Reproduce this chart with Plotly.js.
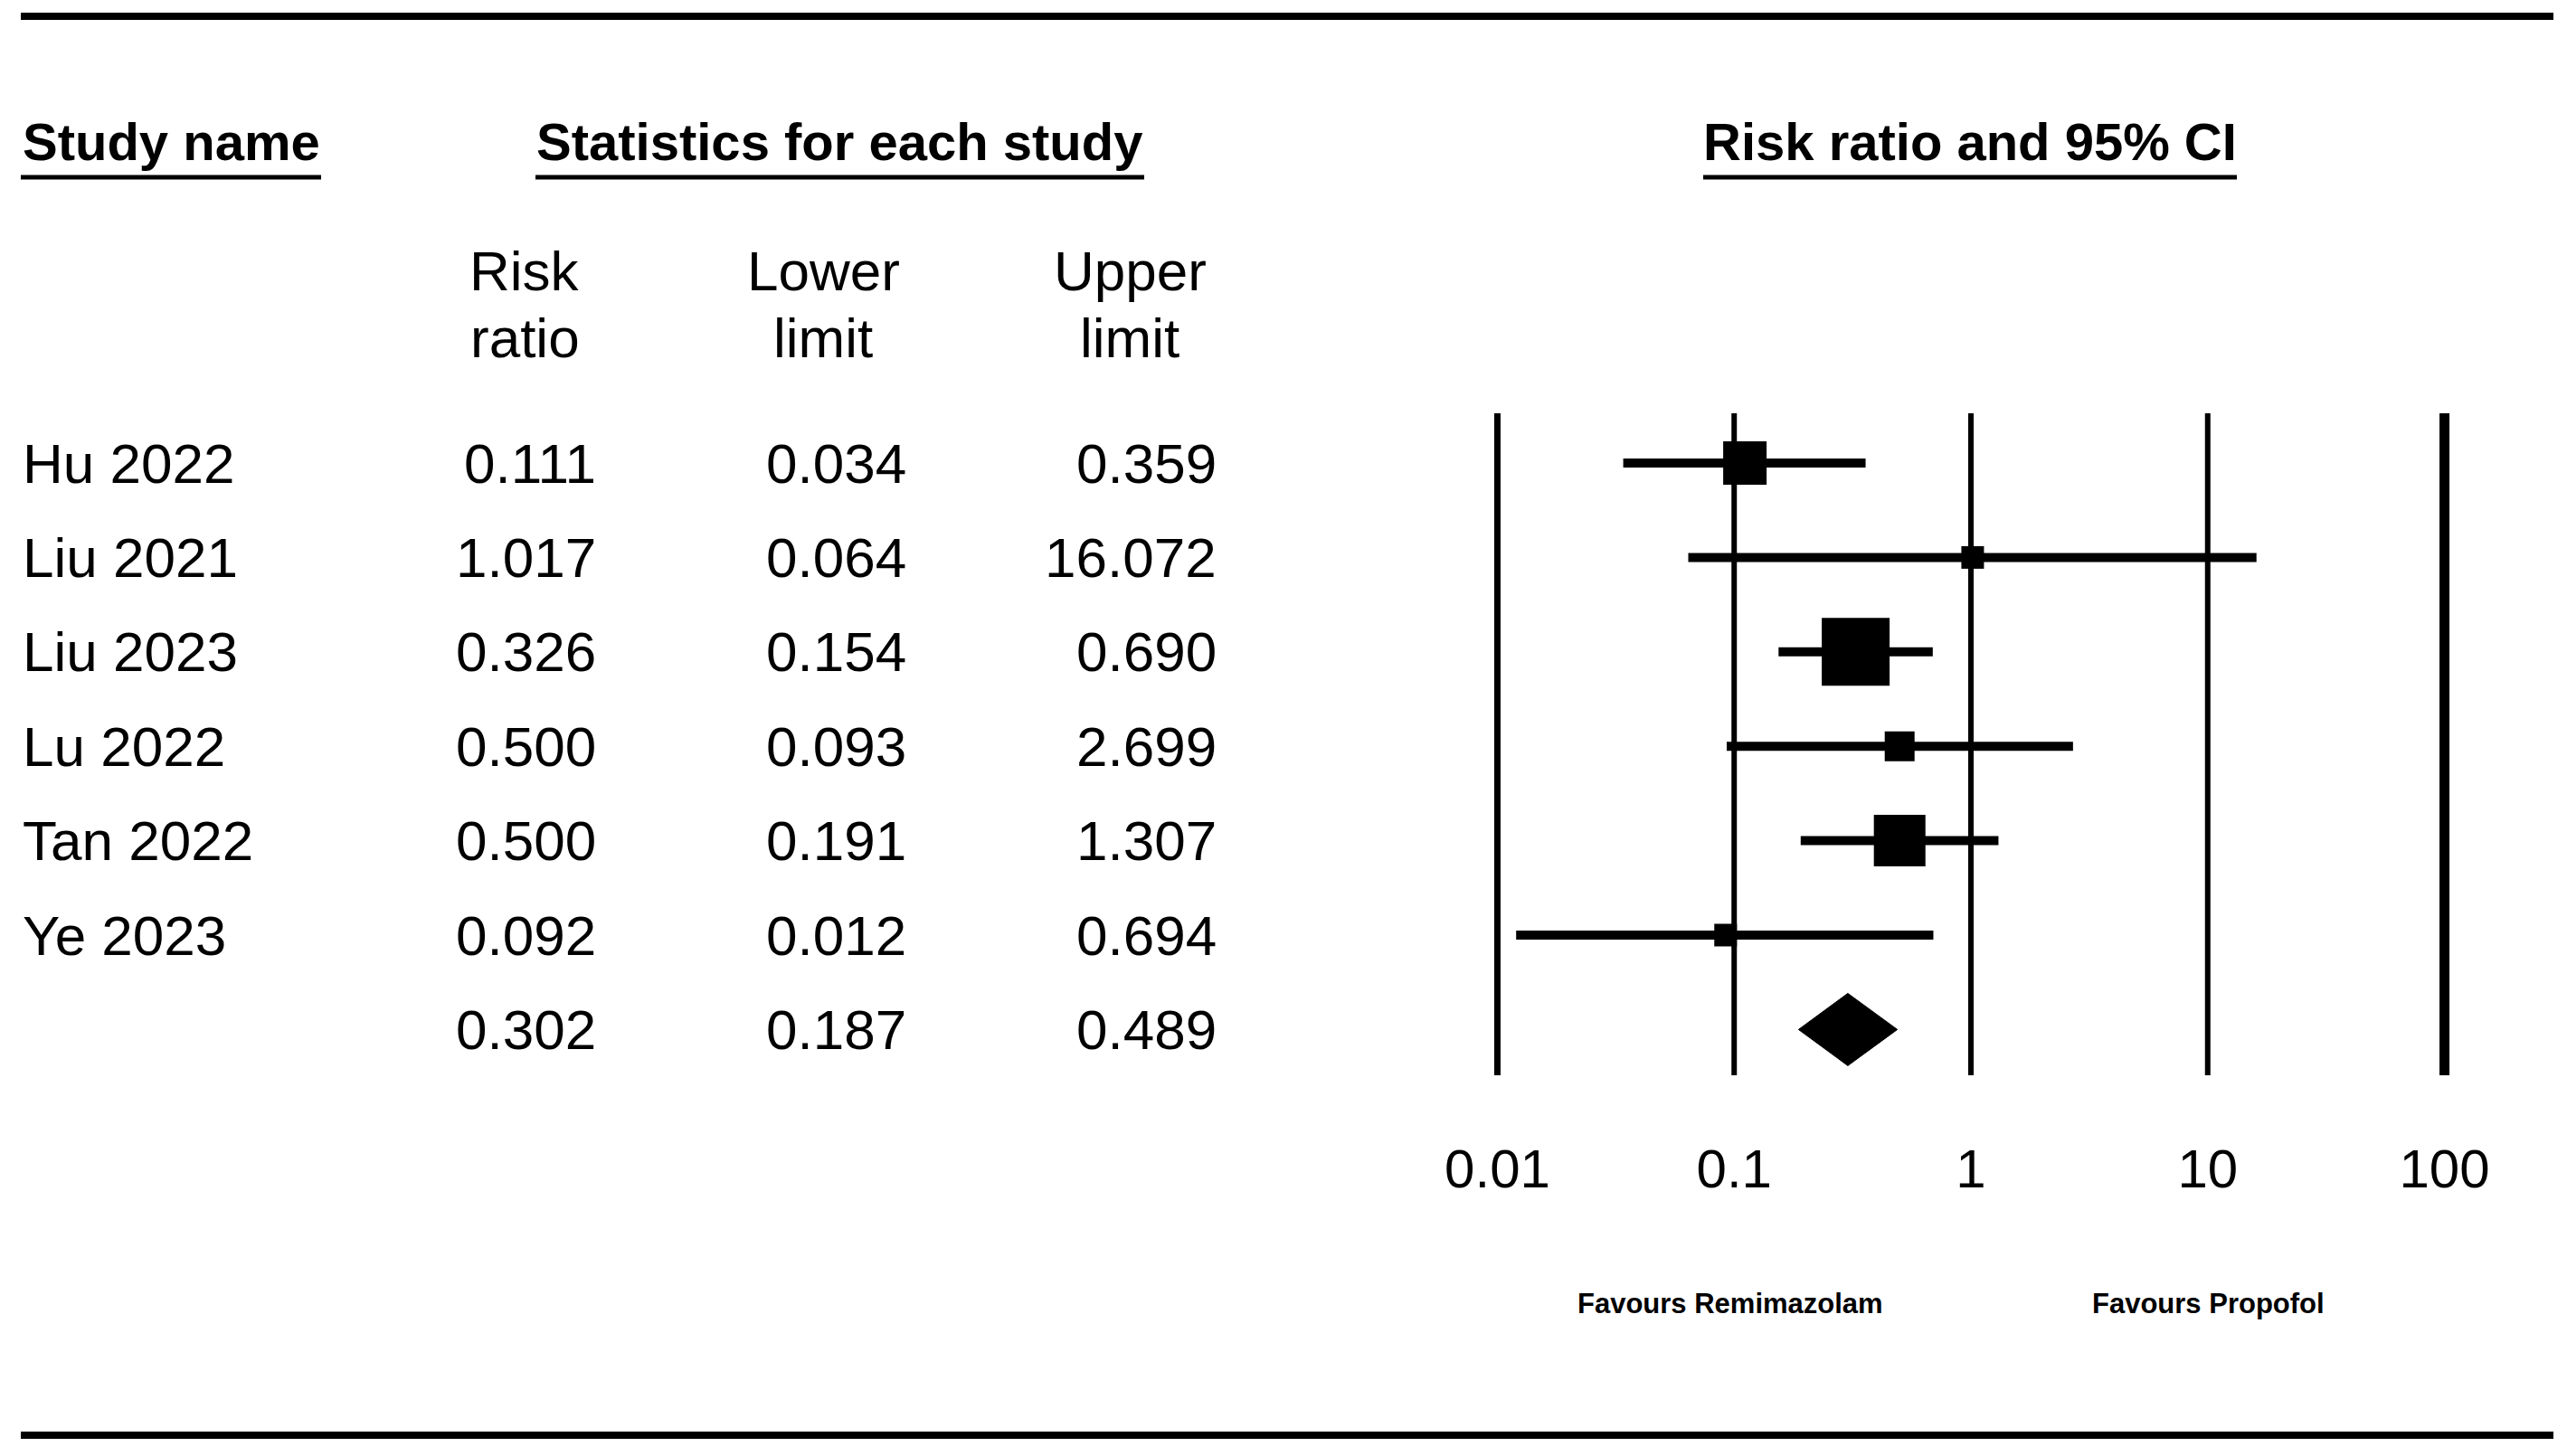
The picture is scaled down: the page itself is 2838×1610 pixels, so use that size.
<!DOCTYPE html>
<html>
<head>
<meta charset="utf-8">
<script src="https://cdn.plot.ly/plotly-3.0.1.min.js"></script>
<style>
  html, body { margin: 0; padding: 0; background: #ffffff; }
  #chart { width: 2838px; height: 1610px; }
</style>
</head>
<body>
<div id="chart"></div>
<script>
// ---------- data ----------
const studies = ["Hu 2022", "Liu 2021", "Liu 2023", "Lu 2022", "Tan 2022", "Ye 2023"];
const riskRatio = [0.111, 1.017, 0.326, 0.500, 0.500, 0.092];
const lowerLimit = [0.034, 0.064, 0.154, 0.093, 0.191, 0.012];
const upperLimit = [0.359, 16.072, 0.690, 2.699, 1.307, 0.694];
const summaryRR = 0.302;
const summaryLower = 0.187;
const summaryUpper = 0.489;
const tickVals = [0.01, 0.1, 1, 10, 100];
const tickText = ["0.01", "0.1", "1", "10", "100"];
const leftLabel = "Favours Remimazolam";
const rightLabel = "Favours Propofol";

// ---------- styles ----------
const squareSizes = [48, 25, 75, 33, 57, 25];
const refLineWidths = [7, 6, 6, 6, 11];
const W = 2838, H = 1610;
const FONT = "Liberation Sans, Arial, sans-serif";
const ROW0 = 512, ROWSTEP = 104.4;       // pixel y of first row and spacing
const PLOT_BOTTOM = 1200;                // pixel y of bottom of plot area
const px2y = p => (p - ROW0) / ROWSTEP;  // pixel -> data row
const px = x => x / W;
const py = y => 1 - y / H;

const traces = [];

// reference vertical lines
tickVals.forEach((v, k) => {
  traces.push({
    type: "scatter", mode: "lines",
    x: [v, v], y: [px2y(457), px2y(1189)],
    line: { color: "#000", width: refLineWidths[k] },
    hoverinfo: "skip"
  });
});

// confidence interval lines
const ciX = [], ciY = [];
studies.forEach((s, i) => {
  ciX.push(lowerLimit[i], upperLimit[i], null);
  ciY.push(i, i, null);
});
traces.push({
  type: "scatter", mode: "lines", x: ciX, y: ciY,
  line: { color: "#000", width: 10 }, hoverinfo: "skip"
});

// point estimates
traces.push({
  type: "scatter", mode: "markers", opacity: 1,
  x: riskRatio, y: studies.map((s, i) => i),
  marker: { symbol: "square", size: squareSizes, color: "#000", opacity: 1, line: { width: 0 } },
  hoverinfo: "skip"
});

// summary diamond
const sRow = studies.length;
const dh = 40 / ROWSTEP;
traces.push({
  type: "scatter", mode: "lines", fill: "toself",
  x: [summaryLower, summaryRR, summaryUpper, summaryRR, summaryLower],
  y: [sRow, sRow - dh, sRow, sRow + dh, sRow],
  fillcolor: "#000", line: { color: "#000", width: 1 }, hoverinfo: "skip"
});

// ---------- annotations (table text) ----------
const ann = [];
const textAnn = (x, y, text, opts) => Object.assign({
  xref: "paper", yref: "paper", x: x, y: y, text: text, showarrow: false,
  xanchor: "center", yanchor: "middle",
  font: { family: FONT, size: 62, color: "#000" }
}, opts || {});

// headings
const boldHead = { family: FONT, size: 58, color: "#000", weight: "bold" };
ann.push(textAnn(px(23), py(156), "<b>Study name</b>", { xanchor: "left", font: boldHead }));
ann.push(textAnn(px(928), py(156), "<b>Statistics for each study</b>", { font: boldHead }));
ann.push(textAnn(px(2178), py(156), "<b>Risk ratio and 95% CI</b>", { font: boldHead }));

// column headings
const colCenters = [580, 910, 1249];
const colTop = ["Risk", "Lower", "Upper"];
const colBot = ["ratio", "limit", "limit"];
colCenters.forEach((c, k) => {
  ann.push(textAnn(px(c), py(299), colTop[k]));
  ann.push(textAnn(px(c), py(373), colBot[k]));
});

// rows
const colRight = [661, 1004, 1347];
studies.forEach((s, i) => {
  ann.push(textAnn(px(23), i, s, { yref: "y", xanchor: "left" }));
  [riskRatio[i], lowerLimit[i], upperLimit[i]].forEach((v, k) => {
    ann.push(textAnn(px(colRight[k]), i, v.toFixed(3), { yref: "y", xanchor: "right" }));
  });
});
[summaryRR, summaryLower, summaryUpper].forEach((v, k) => {
  ann.push(textAnn(px(colRight[k]), sRow, v.toFixed(3), { yref: "y", xanchor: "right" }));
});

// favours labels
const smallBold = { family: FONT, size: 31, color: "#000", weight: "bold" };
ann.push(textAnn(px(1913), py(1441), "<b>" + leftLabel + "</b>", { font: smallBold }));
ann.push(textAnn(px(2441), py(1441), "<b>" + rightLabel + "</b>", { font: smallBold }));

// ---------- shapes (rules) ----------
const hline = (x0, x1, y, w) => ({
  type: "line", xref: "paper", yref: "paper",
  x0: px(x0), x1: px(x1), y0: py(y), y1: py(y),
  line: { color: "#000", width: w }
});
const shapes = [
  hline(23, 2823, 18, 8),
  hline(23, 2823, 1587, 8),
  hline(23, 355, 196, 5),
  hline(592, 1265, 196, 5),
  hline(1883, 2473, 196, 5)
];

// ---------- layout ----------
const xLeft = 1629.3, xRight = 2728.7;
const layout = {
  width: W, height: H,
  margin: { l: 0, r: 0, t: 0, b: 0, pad: 0 },
  paper_bgcolor: "#fff", plot_bgcolor: "#fff",
  showlegend: false,
  font: { family: FONT, color: "#000" },
  xaxis: {
    type: "log", range: [-2.1, 2.1],
    domain: [xLeft / W, xRight / W],
    showgrid: false, zeroline: false, showline: false, ticks: "",
    tickmode: "array", tickvals: tickVals, ticktext: tickText,
    tickfont: { family: FONT, size: 60, color: "#000" },
    ticklabelstandoff: 52,
    fixedrange: true
  },
  yaxis: {
    range: [px2y(PLOT_BOTTOM), px2y(0)],
    domain: [(H - PLOT_BOTTOM) / H, 1],
    showgrid: false, zeroline: false, showline: false,
    showticklabels: false, ticks: "", fixedrange: true
  },
  annotations: ann,
  shapes: shapes
};

Plotly.newPlot("chart", traces, layout, { staticPlot: true, displayModeBar: false });
</script>
</body>
</html>
